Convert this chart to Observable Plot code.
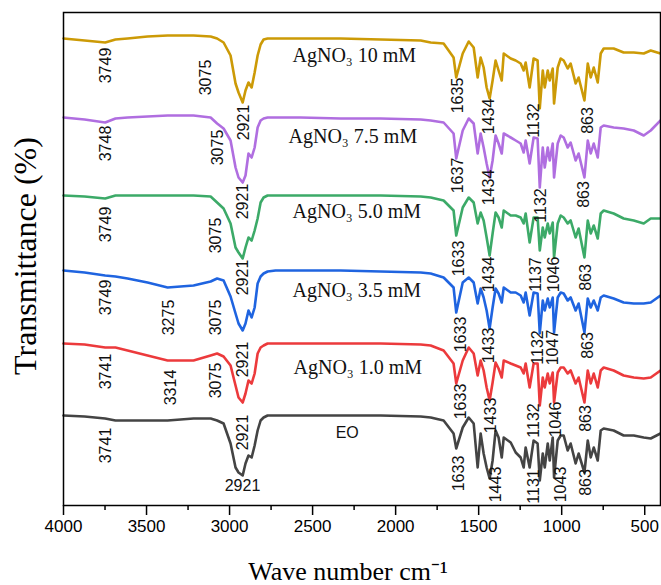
<!DOCTYPE html>
<html><head><meta charset="utf-8">
<script src="https://cdn.jsdelivr.net/npm/d3@7"></script>
<script src="https://cdn.jsdelivr.net/npm/@observablehq/plot@0.6"></script>
<style>body{margin:0;background:#fff}</style>
</head><body><div id="chart"></div>
<script>
// Wavenumbers (cm-1) shared by all spectra
const wavenumbers = [4000,3873,3749,3687,3614,3494,3373,3217,3114,3075,3036,2994,2964,2946,2921,2904,2886,2867,2849,2831,2813,2795,2771,2723,2572,2331,2090,1849,
1789,1711,1651,1635,1596,1560,1530,1506,1488,1470,1452,1434,1416,1398,1380,1361,1349,1307,1277,1247,1229,1217,1193,1169,1145,1132,1114,1102,1084,1072,1054,1046,1024,1006,988,964,946,916,898,863,843,825,807,783,765,747,687,627,566,506,464,405];

// Transmittance (%, offset stacked)
const ag10 = [93.4,93.0,92.6,93.2,93.4,93.8,94.0,94.0,93.8,93.4,92.6,90.0,84.4,82.6,80.6,83.0,84.6,83.6,86.6,90.0,92.2,93.2,93.4,93.4,93.4,93.4,93.2,93.0,
92.6,92.4,89.6,85.6,90.4,92.8,91.6,85.6,89.6,87.6,83.6,81.4,85.0,89.0,87.0,85.0,90.4,89.4,89.0,88.4,87.0,88.6,83.6,89.4,89.0,79.4,87.0,83.6,87.0,85.0,87.4,80.4,87.6,89.4,89.0,87.4,88.4,84.4,85.6,81.0,88.4,85.6,87.6,84.6,90.4,91.4,91.4,90.6,90.6,90.4,91.0,90.4];
const ag75 = [77.6,77.2,76.6,77.4,77.6,77.8,78.0,78.0,77.6,76.4,75.4,73.0,67.6,65.6,64.6,66.0,70.4,69.6,71.6,75.6,77.0,77.4,77.6,77.6,77.6,77.4,77.4,77.2,
77.0,76.6,74.4,69.4,75.0,77.4,76.4,70.4,74.4,71.6,68.4,65.6,69.0,74.0,72.4,70.4,74.4,73.6,73.0,72.4,70.6,73.0,68.4,73.6,73.4,63.6,71.6,67.6,71.6,69.0,72.4,65.6,72.4,74.0,73.6,71.6,72.6,69.0,70.4,65.6,73.0,70.4,72.4,69.6,75.6,76.0,75.6,75.4,75.0,74.0,75.0,77.0];
const ag50 = [62.0,61.8,61.4,62.0,62.0,62.0,62.0,62.0,61.8,60.6,59.4,56.4,51.6,50.6,49.4,51.6,53.6,53.0,55.0,57.4,60.6,61.6,62.0,62.0,62.0,62.0,62.0,61.8,
61.6,61.0,59.0,54.0,59.6,61.6,60.6,56.4,58.6,57.0,53.6,50.0,54.4,58.6,57.6,55.6,59.0,58.0,58.0,57.6,56.4,58.4,52.6,57.6,57.6,51.0,55.6,53.6,56.4,54.4,56.6,49.6,56.4,58.0,57.6,56.4,57.0,53.6,55.4,49.6,57.0,54.4,56.0,53.4,58.4,59.0,58.4,57.4,57.0,56.4,57.4,57.4];
const ag35 = [47.0,46.6,46.0,45.8,45.4,44.6,43.6,44.0,44.8,45.4,45.0,41.8,38.4,36.4,35.0,36.4,39.0,37.6,39.6,44.4,45.8,46.4,46.8,47.0,47.0,47.0,46.8,46.6,
46.4,45.6,43.6,38.6,44.6,45.6,44.6,40.4,43.4,41.6,39.0,35.4,39.6,43.4,42.4,40.6,43.6,42.6,42.6,42.0,40.6,42.6,38.0,42.6,42.4,34.4,41.0,39.0,41.4,39.6,41.6,34.6,41.6,42.6,42.4,41.0,41.6,39.0,40.4,34.6,41.4,39.6,41.0,39.0,41.6,42.0,41.4,40.6,40.4,40.4,40.6,42.0];
const ag1 = [32.4,32.2,31.6,31.6,31.0,30.0,29.0,29.0,30.0,30.4,29.8,28.0,24.0,21.6,20.6,22.4,25.0,24.4,26.4,30.4,31.6,32.0,32.4,32.4,32.4,32.4,32.4,32.2,
32.0,31.0,28.4,24.4,29.0,31.6,30.4,26.0,29.0,27.0,23.6,21.0,24.6,28.6,27.4,25.6,29.0,28.4,28.0,27.6,26.4,28.4,23.6,28.4,28.4,20.0,25.6,23.6,26.4,24.4,26.6,20.6,26.6,27.6,27.6,26.4,27.0,24.4,25.6,20.6,27.0,24.4,26.4,23.6,27.0,27.6,27.0,26.0,25.6,25.4,25.6,27.0];
const eo = [18.0,17.8,17.4,17.0,17.0,17.0,17.0,17.4,17.4,17.0,16.4,12.4,7.6,6.6,6.0,8.4,10.0,9.6,12.0,15.0,17.0,17.6,18.0,18.0,18.0,18.0,18.0,17.8,
17.6,17.0,14.4,11.4,15.6,17.6,16.4,7.6,14.4,10.4,7.6,5.4,9.0,15.0,13.6,9.6,13.6,12.6,10.6,9.6,7.6,11.6,7.6,13.0,12.4,5.0,10.4,7.6,12.4,9.0,13.6,5.6,13.0,14.0,14.0,11.0,12.4,8.4,10.4,6.6,13.0,9.6,11.6,9.0,15.0,15.4,15.0,14.0,14.0,13.6,13.4,14.4];

const seriesNames = ["AgNO₃ 10 mM", "AgNO₃ 7.5 mM", "AgNO₃ 5.0 mM", "AgNO₃ 3.5 mM", "AgNO₃ 1.0 mM", "EO"];
const seriesValues = [ag10, ag75, ag50, ag35, ag1, eo];
const seriesColors = ["#CC9A06", "#B06EE0", "#3CAA68", "#1F64E0", "#EC3A3C", "#444444"];
// series label anchor: [wavenumber, transmittance]
const seriesLabelPos = [[2621, 90.0], [2645, 73.8], [2621, 58.8], [2621, 43.0], [2615, 27.6], [2361, 14.6]];

// peak annotations: [text, wavenumber, transmittance, rotated]
const peakLabels = [
  ["3749",3747,88.0,1],["3075",3145,85.6,1],["2921",2916,76.6,1],["1635",1627,82.0,1],["1434",1440,77.8,1],["1132",1169,77.0,1],["863",843,77.0,1],
  ["3748",3747,72.4,1],["3075",3072,71.6,1],["2921",2922,60.8,1],["1637",1627,66.0,1],["1434",1440,63.6,1],["1132",1127,60.0,1],["863",868,62.2,1],
  ["3749",3747,56.2,1],["3075",3084,54.0,1],["2921",2922,45.6,1],["1633",1621,49.4,1],["1434",1440,46.2,1],["1137",1157,46.2,1],["1046",1048,46.2,1],["863",855,45.6,1],
  ["3749",3747,41.6,1],["3275",3367,37.6,1],["3075",3084,37.6,1],["2921",2922,29.2,1],["1633",1608,34.2,1],["1433",1440,32.0,1],["1132",1145,31.6,1],["1047",1054,31.6,1],["863",843,32.0,1],
  ["3741",3747,26.8,1],["3314",3355,23.6,1],["3075",3084,25.0,1],["2921",2922,14.6,1],["1633",1608,20.8,1],["1433",1428,18.0,1],["1132",1169,17.0,1],["1046",1036,17.2,1],["863",855,17.4,1],
  ["3741",3747,12.0,1],["2921",2922,4.0,0],["1633",1621,6.4,1],["1443",1398,4.2,1],["1131",1169,3.8,1],["1043",1006,4.2,1],["863",855,4.6,1]
];

const majorTicks = [4000,3500,3000,2500,2000,1500,1000,500];
const minorTicks = [3750,3250,2750,2250,1750,1250,750];

const rows = [];
seriesNames.forEach((name, s) => {
  wavenumbers.forEach((wn, i) => rows.push({series: name, wn, t: seriesValues[s][i]}));
});
const labelRows = seriesNames.map((name, s) => ({name, wn: seriesLabelPos[s][0], t: seriesLabelPos[s][1]}));
const peaks = peakLabels.map(([text, wn, t, r]) => ({text, wn, t, r}));

const chart = Plot.plot({
  width: 661, height: 585,
  marginLeft: 63, marginRight: 1, marginTop: 12, marginBottom: 80,
  style: {fontFamily: "Liberation Sans", color: "#000", background: "#fff", overflow: "visible"},
  x: {domain: [4000, 405]},
  y: {domain: [0, 98.6], axis: null},
  color: {domain: seriesNames, range: seriesColors},
  marks: [
    Plot.line(rows, {x: "wn", y: "t", z: "series", stroke: "series", strokeWidth: 2.6, strokeLinejoin: "round"}),
    Plot.text(labelRows.filter(d => d.name !== "EO"), {x: "wn", y: "t", text: "name", textAnchor: "start", fontSize: 20, fontFamily: "Liberation Serif", fill: "#111"}),
    Plot.text(labelRows.filter(d => d.name === "EO"), {x: "wn", y: "t", text: "name", textAnchor: "start", fontSize: 16, fontFamily: "Liberation Sans", fill: "#111"}),
    Plot.text(peaks.filter(d => d.r), {x: "wn", y: "t", text: "text", rotate: -90, fontSize: 16, fontFamily: "Liberation Sans", fill: "#111"}),
    Plot.text(peaks.filter(d => !d.r), {x: "wn", y: "t", text: "text", fontSize: 16, fontFamily: "Liberation Sans", fill: "#111"}),
    Plot.frame({stroke: "#000", strokeWidth: 1.5}),
    Plot.axisX({ticks: majorTicks, tickSize: 10, tickPadding: 4, strokeWidth: 1.5, fontSize: 17, fontFamily: "Liberation Sans", tickFormat: d => String(d), label: null}),
    Plot.axisX({ticks: minorTicks, tickSize: 5, strokeWidth: 1.5, tickFormat: () => "", label: null}),
    Plot.text(["Wave number cm⁻¹"], {frameAnchor: "bottom", textAnchor: "middle", lineAnchor: "middle", dx: -14, dy: 66, fontSize: 26, fontFamily: "Liberation Serif"}),
    Plot.text(["Transmittance (%)"], {frameAnchor: "left", textAnchor: "middle", lineAnchor: "middle", rotate: -90, dx: -38, dy: -3, fontSize: 32, fontFamily: "Liberation Serif"})
  ]
});
document.getElementById("chart").appendChild(chart);
</script>
</body></html>
